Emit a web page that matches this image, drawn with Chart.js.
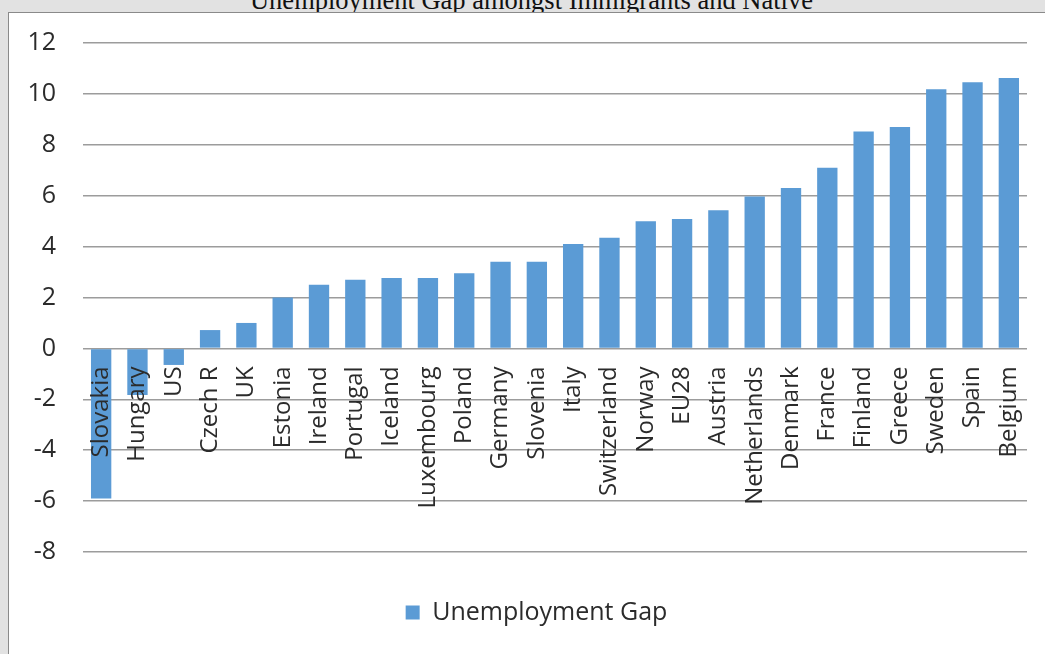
<!DOCTYPE html>
<html>
<head>
<meta charset="utf-8">
<script src="https://cdn.jsdelivr.net/npm/chart.js@4.4.1/dist/chart.umd.min.js"></script>
<style>
  html, body { margin: 0; padding: 0; }
  body {
    width: 1045px; height: 654px; overflow: hidden; position: relative;
    background: #e2e2e2;
  }
  .title {
    position: absolute; left: 9px; width: 1045px; top: -13px;
    text-align: center; font-family: "Liberation Serif", serif;
    font-size: 26.5px; line-height: 1; color: #111; white-space: nowrap;
  }
  .box {
    position: absolute; left: 8px; top: 12px; width: 1040px; height: 650px;
    background: #fff; border-left: 1.5px solid #8a8a8a; border-top: 1.5px solid #8a8a8a;
  }
  canvas { position: absolute; left: 0; top: 0; }
</style>
</head>
<body>
<div class="title">Unemployment Gap amongst Immigrants and Native</div>
<div class="box"><canvas id="chart" width="1036" height="641"></canvas></div>
<script>
// data
var countries = ["Slovakia", "Hungary", "US", "Czech R", "UK", "Estonia", "Ireland", "Portugal",
    "Iceland", "Luxembourg", "Poland", "Germany", "Slovenia", "Italy", "Switzerland", "Norway",
    "EU28", "Austria", "Netherlands", "Denmark", "France", "Finland", "Greece", "Sweden", "Spain", "Belgium"];
var gapValues = [-5.9, -1.83, -0.65, 0.72, 1.0, 2.0, 2.5, 2.7,
    2.77, 2.77, 2.95, 3.4, 3.4, 4.1, 4.35, 5.0,
    5.08, 5.43, 5.97, 6.3, 7.1, 8.52, 8.7, 10.18, 10.46, 10.62];
var seriesName = "Unemployment Gap";
var yMin = -8, yMax = 12, yStep = 2;

var font = "'Open Sans', sans-serif";
var textColor = "#2b2b2b";

new Chart(document.getElementById("chart"), {
    type: "bar",
    data: {
        labels: countries,
        datasets: [{
            label: seriesName,
            data: gapValues,
            backgroundColor: "#5b9bd5",
            borderWidth: 0,
            barPercentage: 0.56,
            categoryPercentage: 1.0
        }]
    },
    options: {
        responsive: false,
        animation: false,
        layout: { padding: { left: 19, right: 0, top: 30, bottom: 19 } },
        plugins: {
            tooltip: { enabled: false },
            legend: {
                position: "bottom",
                labels: {
                    font: { family: font, size: 25 },
                    color: textColor,
                    boxWidth: 14,
                    boxHeight: 14,
                    padding: 48
                }
            }
        },
        scales: {
            x: {
                position: { y: 0 },
                grid: { display: false, drawTicks: false },
                border: { display: false },
                ticks: {
                    z: 1,
                    autoSkip: false,
                    minRotation: 90,
                    maxRotation: 90,
                    padding: 18,
                    color: textColor,
                    font: { family: font, size: 24 }
                },
                afterFit: function (scale) {
                    // labels hang under the zero line, keep them out of the layout;
                    // the right gap of the plot comes from here so the legend stays centred
                    scale.paddingLeft = 0;
                    scale.paddingRight = 18;
                }
            },
            y: {
                min: yMin,
                max: yMax,
                border: { display: false },
                grid: { color: "#9c9c9c", lineWidth: 1.5, drawTicks: false },
                ticks: {
                    stepSize: yStep,
                    padding: 27,
                    color: textColor,
                    font: { family: font, size: 25 }
                },
                afterFit: function (scale) {
                    scale.width = 55;
                    scale.paddingTop = 0;
                    scale.paddingBottom = 0;
                }
            }
        }
    }
});
</script>
</body>
</html>
